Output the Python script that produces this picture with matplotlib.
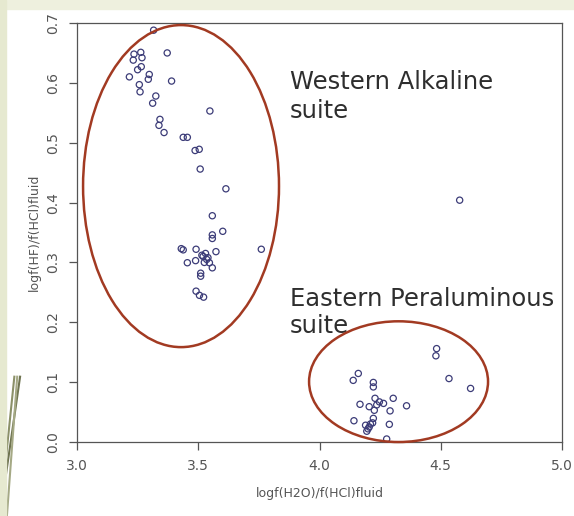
import matplotlib
matplotlib.use("Agg")
import matplotlib.pyplot as plt
from matplotlib.patches import Ellipse, Rectangle
from matplotlib.lines import Line2D

# western alkaline suite
west_x = [3.316, 3.235, 3.263, 3.268, 3.232, 3.372, 3.265, 3.25, 3.216, 3.298,
          3.294, 3.39, 3.257, 3.26, 3.325, 3.312, 3.342, 3.338, 3.359, 3.438,
          3.455, 3.548, 3.487, 3.504, 3.508, 3.614, 3.558, 3.601, 3.558, 3.558,
          3.43, 3.438, 3.491, 3.573, 3.76, 3.455, 3.489, 3.52, 3.53, 3.535,
          3.525, 3.546, 3.558, 3.51, 3.51, 3.491, 3.505, 3.522, 3.515, 3.54]
west_y = [0.688, 0.648, 0.651, 0.642, 0.638, 0.650, 0.627, 0.622, 0.610, 0.614,
          0.606, 0.603, 0.597, 0.585, 0.578, 0.566, 0.539, 0.529, 0.517, 0.509,
          0.509, 0.553, 0.487, 0.489, 0.456, 0.423, 0.378, 0.352, 0.346, 0.340,
          0.323, 0.321, 0.322, 0.318, 0.322, 0.2995, 0.303, 0.31, 0.315, 0.305,
          0.30, 0.2995, 0.291, 0.282, 0.277, 0.252, 0.245, 0.242, 0.312, 0.308]

# eastern peraluminous suite
east_x = [4.483, 4.480, 4.534, 4.623, 4.160, 4.139, 4.222, 4.222, 4.304, 4.229,
          4.167, 4.205, 4.359, 4.247, 4.236, 4.264, 4.291, 4.226, 4.142, 4.222,
          4.219, 4.19, 4.20, 4.21, 4.195, 4.205, 4.288, 4.277]
east_y = [0.156, 0.144, 0.106, 0.0895, 0.1145, 0.103, 0.0995, 0.092, 0.073, 0.073,
          0.063, 0.059, 0.0605, 0.067, 0.062, 0.0645, 0.052, 0.053, 0.0355, 0.0395,
          0.032, 0.028, 0.022, 0.03, 0.018, 0.025, 0.0295, 0.005]

other_x = [4.578]
other_y = [0.404]

xticks = [3.0, 3.5, 4.0, 4.5, 5.0]
yticks = [0.0, 0.1, 0.2, 0.3, 0.4, 0.5, 0.6, 0.7]

fig = plt.figure(figsize=(5.74, 5.16), dpi=100)

# slide background bits
fig.patches.append(Rectangle((0, 0.982), 1, 0.018, transform=fig.transFigure,
                             color="#eef0de", zorder=0))
fig.patches.append(Rectangle((0, 0), 0.011, 1, transform=fig.transFigure,
                             color="#e6e9d0", zorder=0))
for x0, x1, c in [(0.0, 0.035, "#6f7450"), (0.0, 0.025, "#8b9068"), (0.012, 0.03, "#a5a985")]:
    fig.lines.append(Line2D([x0, x1], [0.0, 0.27], transform=fig.transFigure,
                            color=c, lw=1.5, zorder=0))

ax = fig.add_axes([77/574, 74/516, 485/574, 419/516])

mk = dict(marker="o", s=20, facecolors="none", edgecolors="#3c3c78",
          linewidths=0.9, clip_on=False, zorder=3)
ax.scatter(west_x, west_y, **mk)
ax.scatter(east_x, east_y, **mk)
ax.scatter(other_x, other_y, **mk)

red = "#a23a22"
ax.add_patch(Ellipse((3.429, 0.4275), 0.808, 0.538, fill=False,
                     edgecolor=red, lw=1.8, clip_on=False, zorder=4))
ax.add_patch(Ellipse((4.326, 0.1008), 0.738, 0.2017, fill=False,
                     edgecolor=red, lw=1.8, clip_on=False, zorder=4))

txt = dict(fontsize=17.5, color="#2e2e2e", family="DejaVu Sans", va="baseline")
ax.text(3.878, 0.590, "Western Alkaline", **txt)
ax.text(3.878, 0.542, "suite", **txt)
ax.text(3.878, 0.227, "Eastern Peraluminous", **txt)
ax.text(3.878, 0.182, "suite", **txt)

ax.set_xlim(3.0, 5.0)
ax.set_ylim(0.0, 0.7)
ax.set_xticks(xticks)
ax.set_yticks(yticks)
ax.set_xticklabels([f"{v:.1f}" for v in xticks])
ax.set_yticklabels([f"{v:.1f}" for v in yticks], rotation=90, va="center")
ax.tick_params(direction="out", length=6, width=0.9, colors="#555555",
               labelsize=10, labelcolor="#555555", pad=6)
for s in ax.spines.values():
    s.set_color("#555555")
    s.set_linewidth(0.9)

ax.set_xlabel("logf(H2O)/f(HCl)fluid", fontsize=9, color="#555555", labelpad=10)
ax.set_ylabel("logf(HF)/f(HCl)fluid", fontsize=9, color="#555555", labelpad=4)

fig.savefig("out.png", dpi=100, facecolor="white")
